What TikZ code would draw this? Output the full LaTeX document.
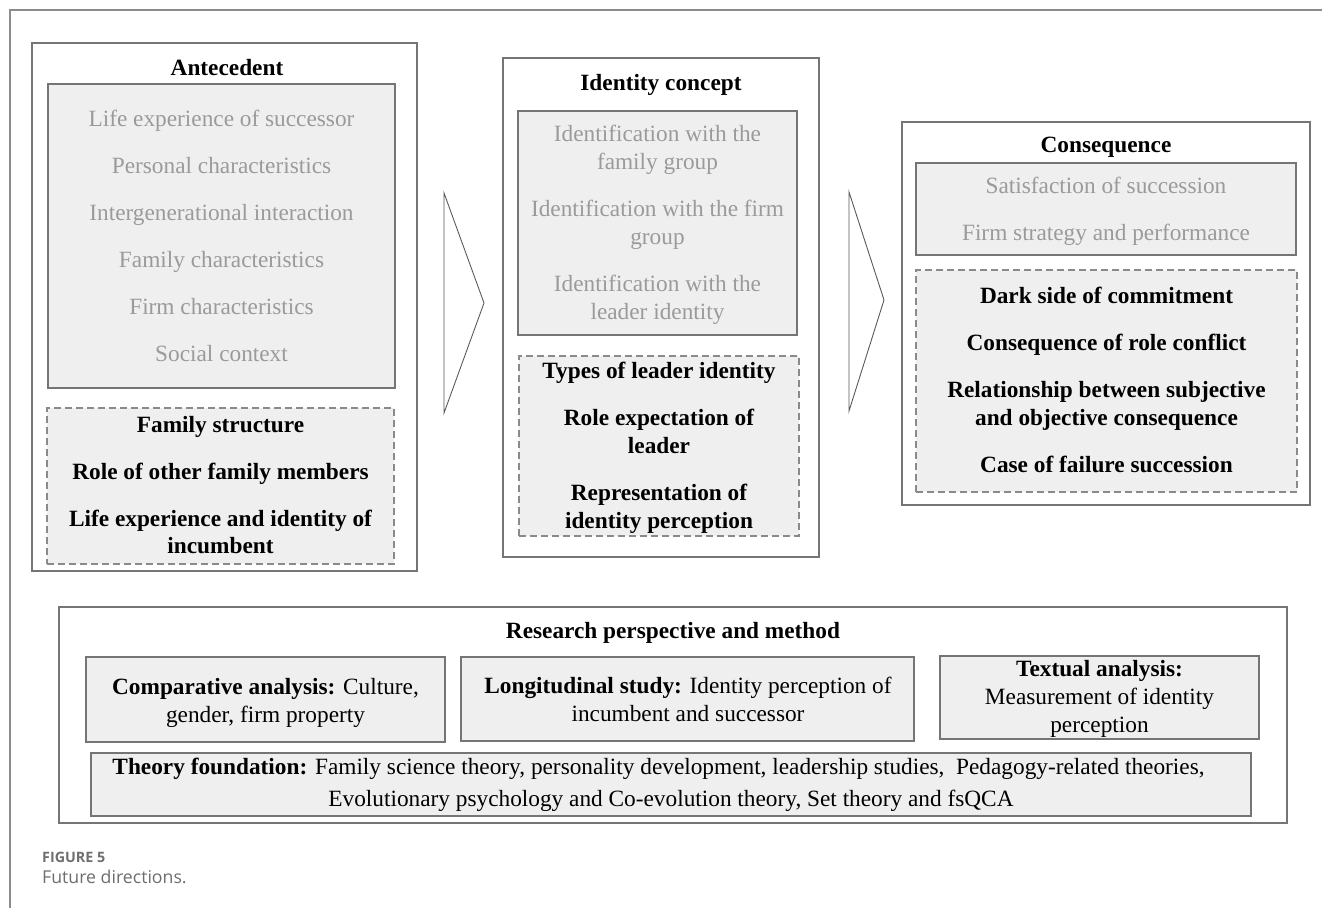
\documentclass[tikz,border=0pt]{standalone}
\usepackage{fontspec}
\setmainfont{Liberation Serif}
\newfontfamily\capfont{Open Sans}
\definecolor{boxgray}{HTML}{757575}
\definecolor{dashgray}{HTML}{8A8A8A}
\definecolor{fillgray}{HTML}{EFEFEF}
\definecolor{litegray}{HTML}{9A9A9A}
\definecolor{framegray}{HTML}{8C8C8C}
\definecolor{capgray}{HTML}{6E6E6E}
\newcommand{\fs}{\fontsize{23.3}{28}\selectfont}
\begin{document}
\begin{tikzpicture}[x=1pt,y=-1pt,
  frame/.style={draw=boxgray, line width=1.2pt, inner sep=0pt, outer sep=0pt},
  graybox/.style={draw=boxgray, fill=fillgray, line width=1.2pt, inner sep=0pt, outer sep=0pt},
  dashbox/.style={draw=dashgray, fill=fillgray, line width=1.2pt, dash pattern=on 7pt off 4pt, inner sep=0pt, outer sep=0pt},
  lite/.style={anchor=base, text=litegray, font=\fs, inner sep=0pt},
  bold/.style={anchor=base, font=\fs\bfseries, inner sep=0pt},
  reg/.style={anchor=base, font=\fs, inner sep=0pt},
  chev/.style={draw=black!65, line width=0.9pt, line join=miter},
  cap1/.style={anchor=base west, font=\capfont\bfseries\fontsize{14.3}{16}\selectfont, text=capgray, inner sep=0pt},
  cap2/.style={anchor=base west, font=\capfont\fontsize{17.7}{20}\selectfont, text=capgray, inner sep=0pt}]
\useasboundingbox (0,0) rectangle (1322,908);
% outer frame
\draw[draw=framegray, line width=2pt] (10,908) -- (10,10) -- (1322,10);

% Antecedent
\node[frame, minimum width=385pt, minimum height=528pt] (ant) at (224.5,307) {};
\node[graybox, minimum width=347pt, minimum height=304pt] (antg) at (221.5,236) {};
\node[dashbox, minimum width=347pt, minimum height=156pt] (antd) at (220.5,486) {};
\node[bold] (antT) at (227,75) {Antecedent};
\node[lite] (a1) at (221.5,126) {Life experience of successor};
\node[lite] (a2) at (221.5,173) {Personal characteristics};
\node[lite] (a3) at (221.5,220) {Intergenerational interaction};
\node[lite] (a4) at (221.5,267) {Family characteristics};
\node[lite] (a5) at (221.5,314) {Firm characteristics};
\node[lite] (a6) at (221.5,361) {Social context};
\node[bold] (a7) at (220.5,432) {Family structure};
\node[bold] (a8) at (220.5,479) {Role of other family members};
\node[bold] (a9) at (220.5,526) {Life experience and identity of};
\node[bold] (a10) at (220.5,553) {incumbent};

% arrow 1
\coordinate (p1t) at (444,193);
\coordinate (p1m) at (484,303);
\coordinate (p1b) at (444,413);
\draw[chev] (p1t) -- (p1m) -- (p1b) -- cycle;

% Identity concept
\node[frame, minimum width=316pt, minimum height=499pt] (idc) at (661,307.5) {};
\node[graybox, minimum width=279pt, minimum height=224pt] (idg) at (657.5,223) {};
\node[dashbox, minimum width=280pt, minimum height=180pt] (idd) at (659,446) {};
\node[bold] (idT) at (661,90) {Identity concept};
\node[lite] (i1) at (657.5,141) {Identification with the};
\node[lite] (i2) at (657.5,169) {family group};
\node[lite] (i3) at (657.5,216) {Identification with the firm};
\node[lite] (i4) at (657.5,244) {group};
\node[lite] (i5) at (657.5,291) {Identification with the};
\node[lite] (i6) at (657.5,319) {leader identity};
\node[bold] (i7) at (659,378) {Types of leader identity};
\node[bold] (i8) at (659,425) {Role expectation of};
\node[bold] (i9) at (659,453) {leader};
\node[bold] (i10) at (659,500) {Representation of};
\node[bold] (i11) at (659,528) {identity perception};

% arrow 2
\coordinate (p2t) at (849,192);
\coordinate (p2m) at (884,300);
\coordinate (p2b) at (849,411);
\draw[chev] (p2t) -- (p2m) -- (p2b) -- cycle;

% Consequence
\node[frame, minimum width=408pt, minimum height=383pt] (con) at (1106,313.5) {};
\node[graybox, minimum width=380pt, minimum height=92pt] (cong) at (1106,209) {};
\node[dashbox, minimum width=381pt, minimum height=222pt] (cond) at (1106.5,381) {};
\node[bold] (cT) at (1106,152) {Consequence};
\node[lite] (c1) at (1106,193) {Satisfaction of succession};
\node[lite] (c2) at (1106,240) {Firm strategy and performance};
\node[bold] (c3) at (1106.5,303) {Dark side of commitment};
\node[bold] (c4) at (1106.5,350) {Consequence of role conflict};
\node[bold] (c5) at (1106.5,397) {Relationship between subjective};
\node[bold] (c6) at (1106.5,425) {and objective consequence};
\node[bold] (c7) at (1106.5,472) {Case of failure succession};

% Research perspective
\node[frame, minimum width=1228pt, minimum height=216pt] (res) at (673,715) {};
\node[bold] (rT) at (673,638) {Research perspective and method};
\node[graybox, minimum width=359pt, minimum height=85pt] (cmp) at (265.5,699.5) {};
\node[graybox, minimum width=453pt, minimum height=84pt] (lon) at (687.5,699) {};
\node[graybox, minimum width=319pt, minimum height=83pt] (txt) at (1099.5,697.5) {};
\node[graybox, minimum width=1160pt, minimum height=63pt] (thy) at (671,784.5) {};
\node[reg] (m1) at (265.5,694) {\textbf{Comparative analysis:} Culture,};
\node[reg] (m2) at (265.5,722) {gender, firm property};
\node[reg] (l1) at (688,693) {\textbf{Longitudinal study:} Identity perception of};
\node[reg] (l2) at (688,721) {incumbent and successor};
\node[bold] (t1) at (1099.5,676) {Textual analysis:};
\node[reg] (t2) at (1099.5,704) {Measurement of identity};
\node[reg] (t3) at (1099.5,732) {perception};
\node[reg] (h1) at (658.5,774) {\textbf{Theory foundation:} Family science theory, personality development, leadership studies,\ \ Pedagogy-related theories,};
\node[reg] (h2) at (671,806) {Evolutionary psychology and Co-evolution theory, Set theory and fsQCA};

% caption
\node[cap1] (f1) at (42,862) {FIGURE 5};
\node[cap2] (f2) at (42,883) {Future directions.};
\end{tikzpicture}
\end{document}
